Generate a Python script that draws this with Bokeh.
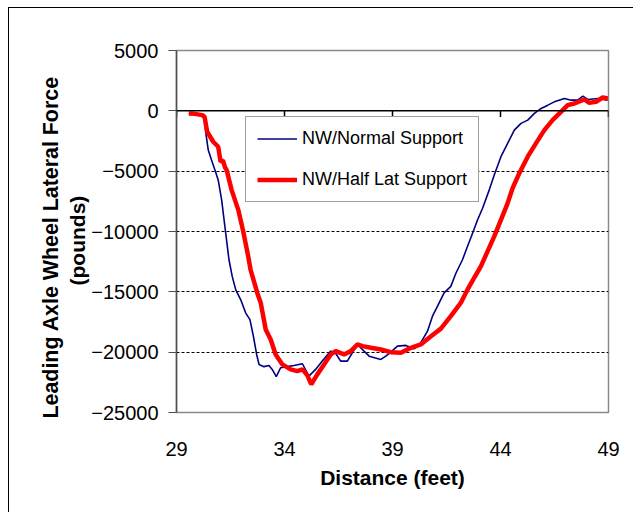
from bokeh.plotting import figure
from bokeh.models import (Range1d, FixedTicker, Span, Legend, LegendItem,
                          ColumnDataSource, Title)
from bokeh.embed import file_html
from bokeh.resources import INLINE

# ---- data ----
x_ticks = [29, 34, 39, 44, 49]
y_ticks = [-25000, -20000, -15000, -10000, -5000, 0, 5000]

normal_x = [29.57, 29.85, 30.19, 30.30, 30.36, 30.47, 30.62, 30.78, 30.93, 31.09,
            31.24, 31.43, 31.58, 31.74, 31.97, 32.20, 32.40, 32.56, 32.71, 32.82,
            33.05, 33.28, 33.43, 33.62, 33.82, 34.13, 34.44, 34.83, 35.13, 35.44,
            35.75, 36.14, 36.35, 36.60, 36.91, 37.14, 37.38, 37.68, 37.92, 38.46,
            38.69, 38.92, 39.23, 39.62, 40.00, 40.31, 40.62, 40.85, 41.08, 41.39,
            41.70, 41.94, 42.24, 42.47, 42.71, 42.94, 43.17, 43.48, 43.71, 44.02,
            44.33, 44.64, 44.95, 45.26, 45.57, 45.88, 46.19, 46.49, 46.96, 47.27,
            47.58, 47.81, 48.04, 48.50, 48.96]
normal_y = [-215, -250, -355, -700, -1870, -3250, -4075, -4900, -5725, -7380,
            -9585, -12340, -13720, -14820, -15640, -16740, -17300, -18680, -20190, -21015,
            -21200, -21100, -21430, -22030, -21290, -21200, -21100, -20960, -21980, -21430,
            -20740, -19915, -20050, -20740, -20740, -20050, -19360, -19915, -20330, -20600,
            -20330, -20000, -19500, -19440, -19720, -19220, -18260, -17020, -16200, -15090,
            -14545, -13440, -12340, -11240, -10130, -9030, -8070, -6550, -5315, -3800,
            -2700, -1595, -1040, -770, -215, 200, 470, 745, 1025, 885,
            885, 1215, 940, 1025, 885]

half_x = [29.57, 29.85, 30.19, 30.30, 30.42, 30.70, 30.93, 31.04, 31.15, 31.25,
          31.32, 31.55, 31.86, 32.09, 32.32, 32.43, 32.74, 32.90, 33.13, 33.36,
          33.59, 33.90, 34.28, 34.59, 34.83, 35.05, 35.24, 35.52, 35.83, 36.14,
          36.37, 36.76, 37.07, 37.38, 37.61, 38.00, 38.46, 38.92, 39.39, 39.85,
          40.31, 40.77, 41.24, 41.70, 42.16, 42.47, 42.78, 43.09, 43.40, 43.71,
          44.02, 44.30, 44.56, 44.87, 45.26, 45.64, 46.03, 46.41, 46.80, 47.11,
          47.42, 47.88, 48.11, 48.42, 48.73, 48.97]
half_y = [-215, -250, -355, -500, -1735, -2560, -2975, -4215, -4100, -4700,
          -4900, -6553, -8206, -10000, -12065, -13170, -15090, -15917, -18120, -18950,
          -20190, -21015, -21430, -21570, -21430, -21900, -22670, -21840, -21015, -20190,
          -19915, -20190, -19915, -19360, -19500, -19640, -19780, -20000, -20050, -19640,
          -19360, -18700, -18050, -17020, -15920, -14820, -13850, -12890, -11650, -10410,
          -9030, -7800, -6410, -5175, -3800, -2700, -1595, -770, -80, 470,
          610, 940, 660, 745, 1105, 1025]

series_names = ["NW/Normal Support", "NW/Half Lat Support"]
y_title_lines = ["Leading Axle Wheel Lateral Force", "(pounds)"]
x_title = "Distance (feet)"

FONT = "Liberation Sans"

p = figure(width=633, height=512, output_backend="svg", toolbar_location=None,
           x_range=Range1d(29, 49), y_range=Range1d(-25000, 5000),
           min_border_left=176, min_border_right=25, min_border_top=50,
           min_border_bottom=100)

p.background_fill_color = "white"
p.border_fill_color = None
p.outline_line_color = "#8a8a8a"
p.outline_line_width = 1.5
# outer black border of the chart area (drawn behind the transparent canvas)
p.styles = {
    "background-color": "white",
    "background-image": "linear-gradient(black, black), linear-gradient(black, black)",
    "background-size": "1px 100%, 100% 1px",
    "background-position": "8px 7px, 8px 7px",
    "background-repeat": "no-repeat",
}

# x axis (labels at bottom, line drawn at y=0 separately)
xa = p.xaxis[0]
xa.ticker = FixedTicker(ticks=x_ticks)
xa.axis_line_color = None
xa.major_tick_line_color = None
xa.minor_tick_line_color = None
xa.major_label_standoff = 23
xa.major_label_text_font = FONT
xa.major_label_text_font_size = "20px"
xa.major_label_text_color = "black"
xa.axis_label = x_title
xa.axis_label_text_font = FONT
xa.axis_label_text_font_size = "21px"
xa.axis_label_text_font_style = "bold"
xa.axis_label_text_color = "black"
xa.axis_label_standoff = 7

ya = p.yaxis[0]
ya.ticker = FixedTicker(ticks=y_ticks)
ya.axis_line_color = "#505050"
ya.axis_line_width = 1.5
ya.major_tick_line_color = "#505050"
ya.major_tick_in = 0
ya.major_tick_out = 8
ya.minor_tick_line_color = None
ya.major_label_standoff = 10
ya.major_label_text_font = FONT
ya.major_label_text_font_size = "20px"
ya.major_label_text_color = "black"

# y-axis title as two stacked titles on the left (inner line first);
# align "left" on a left panel anchors the text start at the panel bottom
t2 = Title(text=y_title_lines[1], align="left", offset=127,
           text_font=FONT, text_font_size="21px", text_font_style="bold",
           text_color="black", standoff=0)
t1 = Title(text=y_title_lines[0], align="left", offset=-6,
           text_font=FONT, text_font_size="21.4px", text_font_style="bold",
           text_color="black", standoff=1)
p.add_layout(t2, "left")
p.add_layout(t1, "left")

p.xgrid.grid_line_color = None
p.ygrid.ticker = FixedTicker(ticks=[t for t in y_ticks if t != 0])
p.ygrid.grid_line_color = "black"
p.ygrid.grid_line_dash = "3 2"
p.ygrid.grid_line_width = 1

# zero line and its downward ticks
p.add_layout(Span(location=0, dimension="width", line_color="black", line_width=1.5))
tick_src = ColumnDataSource(dict(x=x_ticks, y0=[0] * len(x_ticks), y1=[-520] * len(x_ticks)))
p.segment(x0="x", y0="y0", x1="x", y1="y1", source=tick_src, line_color="black", line_width=1.5)

r_blue = p.line(normal_x, normal_y, line_color="#000080", line_width=1.6)
r_red = p.line(half_x, half_y, line_color="#ff0000", line_width=4.5)

legend = Legend(items=[LegendItem(label=series_names[0], renderers=[r_blue]),
                       LegendItem(label=series_names[1], renderers=[r_red])],
                location=(69, 210))
legend.label_text_font = FONT
legend.label_text_font_size = "18px"
legend.label_text_color = "black"
legend.glyph_width = 40
legend.glyph_height = 21
legend.label_height = 21
legend.label_standoff = 5
legend.padding = 11
legend.spacing = 20
legend.margin = 0
legend.border_line_color = "#404040"
legend.border_line_width = 1
legend.background_fill_alpha = 1
p.add_layout(legend, "center")

open("out.html", "w").write(file_html(p, INLINE))
